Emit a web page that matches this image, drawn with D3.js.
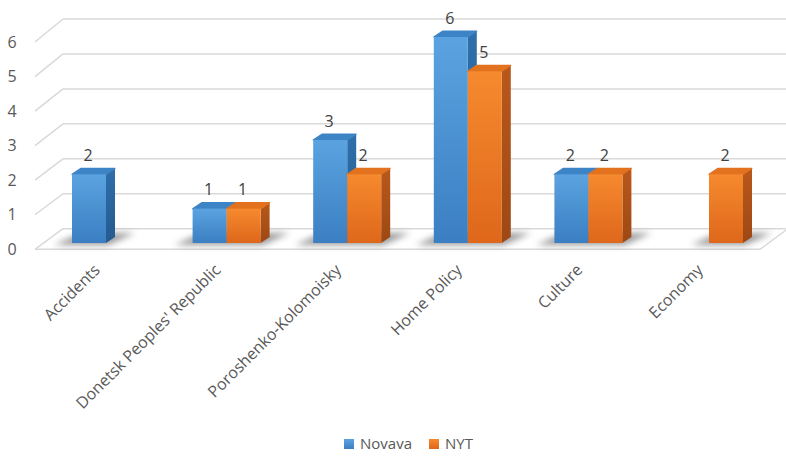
<!DOCTYPE html>
<html>
<head>
<meta charset="utf-8">
<script src="https://cdn.jsdelivr.net/npm/d3@7"></script>
<style>
  html, body { margin: 0; padding: 0; background: #fff; }
  svg { display: block; }
</style>
</head>
<body>
<script>
// ---- data ----
const categories = ["Accidents", "Donetsk Peoples' Republic", "Poroshenko-Kolomoisky", "Home Policy", "Culture", "Economy"];
const seriesNames = ["Novava", "NYT"];
const novavaValues = [2, 1, 3, 6, 2, null];
const nytValues = [null, 1, 2, 5, 2, 2];
const yTicks = [0, 1, 2, 3, 4, 5, 6];

// ---- layout ----
const W = 786, H = 456;
const svg = d3.select("body").append("svg").attr("width", W).attr("height", H);
const defs = svg.append("defs");

const fontFam = "'Open Sans', 'Noto Sans', sans-serif";

const x = d3.scaleBand().domain(categories).range([45.7, 769.3]);
const groupW = 68;
const xs = d3.scaleBand().domain(seriesNames).range([0, groupW]);
const yBar = d3.scaleLinear().domain([0, 6]).range([243, 37]);
const yFront = d3.scaleLinear().domain([0, 6]).range([249.3, 42]);
const yBack = d3.scaleLinear().domain([0, 6]).range([228.7, 19]);
const wallFrontX = 35, wallBackX = 63, floorFrontRight = 760, backRight = 788;
const dX = 9, dY = -6;

const palette = {
  Novava: { front: ["#5aa3e0", "#3b7fc2"], side: ["#2f6fab", "#245a8e"], top: "#3d84c6" },
  NYT: { front: ["#f68a2e", "#de671b"], side: ["#b9581b", "#9e4814"], top: "#e3721f" }
};

function grad(id, c0, c1, vertical = true) {
  const g = defs.append("linearGradient").attr("id", id)
    .attr("x1", 0).attr("y1", 0).attr("x2", vertical ? 0 : 1).attr("y2", vertical ? 1 : 0);
  g.append("stop").attr("offset", "0%").attr("stop-color", c0);
  g.append("stop").attr("offset", "100%").attr("stop-color", c1);
}
seriesNames.forEach(s => {
  grad("front-" + s, palette[s].front[0], palette[s].front[1]);
  grad("side-" + s, palette[s].side[0], palette[s].side[1]);
});
defs.append("filter").attr("id", "blur").attr("x", "-50%").attr("y", "-100%").attr("width", "200%").attr("height", "300%")
  .append("feGaussianBlur").attr("stdDeviation", 3);

// ---- gridlines ----
const grid = svg.append("g").attr("stroke", "#d9d9d9").attr("stroke-width", 1.5).attr("fill", "none");
yTicks.forEach(v => {
  grid.append("line").attr("x1", wallFrontX).attr("y1", yFront(v)).attr("x2", wallBackX).attr("y2", yBack(v));
  grid.append("line").attr("x1", wallBackX).attr("y1", yBack(v)).attr("x2", backRight).attr("y2", yBack(v));
});
grid.append("line").attr("x1", wallFrontX).attr("y1", yFront(0)).attr("x2", floorFrontRight).attr("y2", yFront(0));
grid.append("line").attr("x1", floorFrontRight).attr("y1", yFront(0)).attr("x2", backRight).attr("y2", yBack(0));

// ---- y tick labels ----
svg.append("g").selectAll("text").data(yTicks).join("text")
  .attr("x", 12).attr("y", d => yFront(d)).attr("dy", "0.35em")
  .attr("text-anchor", "middle").attr("font-family", fontFam).attr("font-size", 16)
  .attr("fill", "#595959").text(d => d);

// ---- bars ----
const barsData = categories.map((c, i) => ({
  cat: c,
  vals: [{ s: "Novava", v: novavaValues[i] }, { s: "NYT", v: nytValues[i] }]
}));

const bars = svg.append("g");
barsData.forEach(g => {
  const gx = x(g.cat) + (x.bandwidth() - groupW) / 2;
  const present = g.vals.filter(d => d.v != null);
  const left = gx + xs(present[0].s), right = gx + xs(present[present.length - 1].s) + xs.bandwidth();
  const b = yBar(0);
  // shadow
  bars.append("path")
    .attr("d", `M${left - 18},${b + 2} L${right + 2},${b + 2} L${right + dX + 20},${b - 10} L${left + dX},${b - 10} Z`)
    .attr("fill", "#4a4a4a").attr("opacity", 0.55).attr("filter", "url(#blur)");
  present.forEach(d => {
    const x0 = gx + xs(d.s), x1 = x0 + xs.bandwidth();
    const t = yBar(d.v);
    const p = palette[d.s];
    bars.append("path")
      .attr("d", `M${x1},${t} L${x1 + dX},${t + dY} L${x1 + dX},${b + dY} L${x1},${b} Z`)
      .attr("fill", `url(#side-${d.s})`);
    bars.append("path")
      .attr("d", `M${x0},${t} L${x0 + dX},${t + dY} L${x1 + dX},${t + dY} L${x1},${t} Z`)
      .attr("fill", p.top).attr("stroke", p.top).attr("stroke-width", 1.2).attr("stroke-linejoin", "round");
    bars.append("rect").attr("x", x0).attr("y", t).attr("width", xs.bandwidth()).attr("height", b - t)
      .attr("fill", `url(#front-${d.s})`);
  });
});

// data labels
barsData.forEach(g => {
  const gx = x(g.cat) + (x.bandwidth() - groupW) / 2;
  g.vals.filter(d => d.v != null).forEach(d => {
    svg.append("text")
      .attr("x", gx + xs(d.s) + xs.bandwidth() / 2 - 1)
      .attr("y", yBar(d.v) - 19).attr("dy", "0.35em")
      .attr("text-anchor", "middle").attr("font-family", fontFam).attr("font-size", 16)
      .attr("fill", "#404040").text(d.v);
  });
});

// ---- category labels ----
svg.append("g").selectAll("text").data(categories).join("text")
  .attr("transform", d => `translate(${x(d) + x.bandwidth() / 2 - 5},${271}) rotate(-45)`)
  .attr("text-anchor", "end").attr("font-family", fontFam).attr("font-size", 16)
  .attr("fill", "#595959").text(d => d);

// ---- legend ----
const legend = svg.append("g").attr("transform", "translate(344,444)");
const legItems = [{ s: "Novava", x: 0 }, { s: "NYT", x: 85 }];
legItems.forEach(it => {
  legend.append("rect").attr("x", it.x).attr("y", -5).attr("width", 10).attr("height", 10)
    .attr("fill", `url(#front-${it.s})`);
  legend.append("text").attr("x", it.x + 16).attr("y", 0).attr("dy", "0.35em")
    .attr("font-family", fontFam).attr("font-size", 15).attr("fill", "#595959").text(it.s);
});
</script>
</body>
</html>
